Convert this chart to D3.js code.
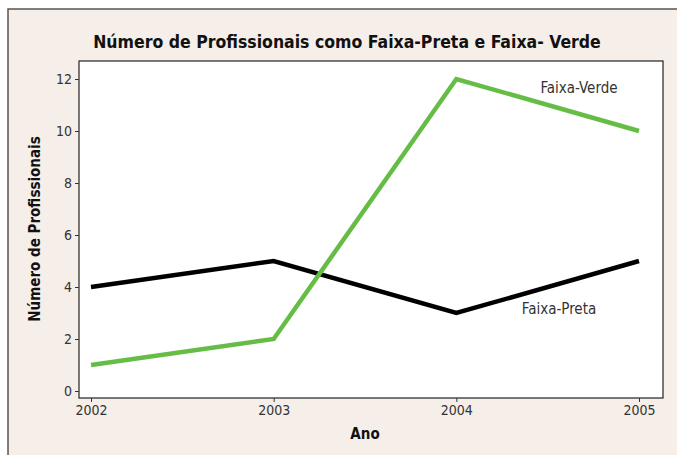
<!DOCTYPE html>
<html>
<head>
<meta charset="utf-8">
<script src="https://cdn.jsdelivr.net/npm/d3@7"></script>
<style>
  body { margin: 0; background: #fff; }
  text { font-family: "DejaVu Sans Condensed", "Liberation Sans", sans-serif; }
</style>
</head>
<body>
<script>
var anos = [2002, 2003, 2004, 2005];
var faixaPreta = [4, 5, 3, 5];
var faixaVerde = [1, 2, 12, 10];
var yTicks = [0, 2, 4, 6, 8, 10, 12];

var w = 677, h = 455;
var svg = d3.select("body").append("svg")
    .attr("width", w)
    .attr("height", h);

// fundo e moldura
svg.append("rect").attr("x", 0).attr("y", 0).attr("width", w).attr("height", h).attr("fill", "#ffffff");
svg.append("rect").attr("x", 8).attr("y", 9).attr("width", w).attr("height", h)
    .attr("fill", "#f6eee8").attr("stroke", "#555").attr("stroke-width", 1.5);

var plot = {left: 79, right: 663, top: 61, bottom: 398};

var xScale = d3.scaleLinear().domain([2002, 2005]).range([91, 639]);
var yScale = d3.scaleLinear().domain([0, 12]).range([391, 79]);

svg.append("rect")
    .attr("x", plot.left).attr("y", plot.top)
    .attr("width", plot.right - plot.left).attr("height", plot.bottom - plot.top)
    .attr("fill", "white").attr("stroke", "#222").attr("stroke-width", 1.2);

var yAxis = svg.append("g")
    .attr("transform", "translate(" + plot.left + ",0)")
    .call(d3.axisLeft(yScale).tickValues(yTicks).tickSize(4).tickPadding(3).tickFormat(d3.format("d")));
yAxis.select(".domain").remove();

var xAxis = svg.append("g")
    .attr("transform", "translate(0," + plot.bottom + ")")
    .call(d3.axisBottom(xScale).tickValues(anos).tickSize(4).tickPadding(3).tickFormat(d3.format("d")));
xAxis.select(".domain").remove();

svg.selectAll(".tick text").attr("font-size", 14).attr("fill", "#333");
svg.selectAll(".tick line").attr("stroke", "#333");

var line = d3.line()
    .x(function(d, i) { return xScale(anos[i]); })
    .y(function(d) { return yScale(d); });

svg.append("path").datum(faixaPreta)
    .attr("d", line).attr("fill", "none")
    .attr("stroke", "#000").attr("stroke-width", 4.5);

svg.append("path").datum(faixaVerde)
    .attr("d", line).attr("fill", "none")
    .attr("stroke", "#66bd45").attr("stroke-width", 4.5);

svg.append("text").attr("x", 579).attr("y", 93).attr("text-anchor", "middle")
    .attr("font-size", 15).attr("fill", "#333").text("Faixa-Verde");
svg.append("text").attr("x", 559).attr("y", 314).attr("text-anchor", "middle")
    .attr("font-size", 15).attr("fill", "#333").text("Faixa-Preta");

svg.append("text").attr("x", 347).attr("y", 48).attr("text-anchor", "middle")
    .attr("font-size", 17.5).attr("font-weight", "bold").attr("fill", "#111")
    .text("Número de Profissionais como Faixa-Preta e Faixa- Verde");

svg.append("text").attr("x", 365).attr("y", 439).attr("text-anchor", "middle")
    .attr("font-size", 15).attr("font-weight", "bold").attr("fill", "#111").text("Ano");

svg.append("text").attr("transform", "translate(40,229) rotate(-90)").attr("text-anchor", "middle")
    .attr("font-size", 15).attr("font-weight", "bold").attr("fill", "#111").text("Número de Profissionais");
</script>
</body>
</html>
